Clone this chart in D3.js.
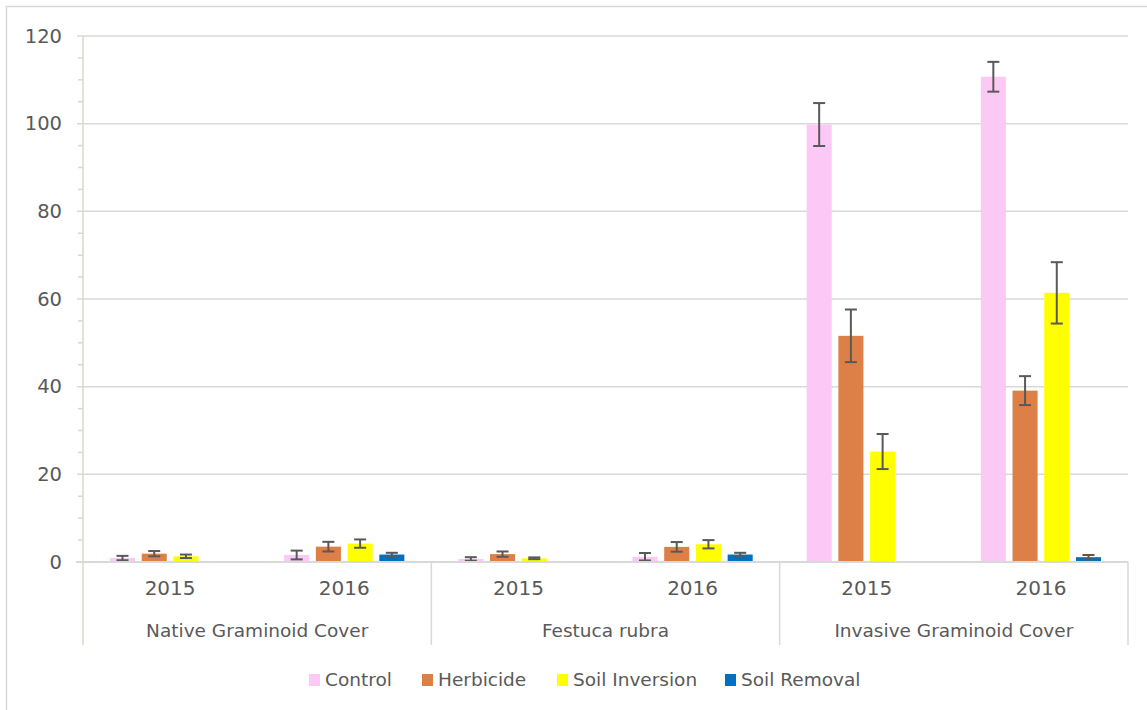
<!DOCTYPE html>
<html>
<head>
<meta charset="utf-8">
<script src="https://cdn.jsdelivr.net/npm/d3@7"></script>
<style>
  body { margin: 0; background: #fff; }
  svg text { font-family: "DejaVu Sans", sans-serif; fill: #595959; }
</style>
</head>
<body>
<svg width="1147" height="710"></svg>
<script>
// chart data
const categories = ['Native Graminoid Cover', 'Festuca rubra', 'Invasive Graminoid Cover'];
const years = ['2015', '2016'];
const seriesNames = ['Control', 'Herbicide', 'Soil Inversion', 'Soil Removal'];
const yTicks = [0, 20, 40, 60, 80, 100, 120];

// one value per (category, year), in that order
const control      = [0.9, 1.6, 0.7, 1.2, 99.8, 110.7];
const herbicide    = [1.9, 3.5, 1.8, 3.45, 51.6, 39.1];
const soilInversion = [1.3, 4.2, 0.85, 4.05, 25.2, 61.4];
const soilRemoval  = [0, 1.7, 0, 1.7, 0, 1.1];

const controlErr      = [0.5, 1.0, 0.4, 0.85, 4.9, 3.4];
const herbicideErr    = [0.6, 1.1, 0.6, 1.1, 6.0, 3.3];
const soilInversionErr = [0.4, 0.95, 0.2, 0.95, 4.0, 7.0];
const soilRemovalErr  = [0, 0.4, 0, 0.4, 0, 0.5];

const colors = ['#fcc8f5', '#dd8047', '#ffff00', '#0070c0'];

function whenLoaded(){
    const svg = d3.select('svg');
    const width = +svg.attr('width');
    const height = +svg.attr('height');

    const values = [control, herbicide, soilInversion, soilRemoval];
    const errors = [controlErr, herbicideErr, soilInversionErr, soilRemovalErr];

    const margin = {top: 36, right: 19, bottom: 148, left: 83};
    const innerWidth = width - margin.left - margin.right;
    const innerHeight = height - margin.top - margin.bottom;

    // outer frame
    svg.append('rect')
        .attr('x', 6.5).attr('y', 6.5)
        .attr('width', width + 10).attr('height', height + 10)
        .attr('fill', 'none')
        .attr('stroke', '#d9d9d9')
        .attr('stroke-width', 1.5);

    const g = svg.append('g')
        .attr('transform', `translate(${margin.left},${margin.top})`);

    const x0 = d3.scaleBand().domain(categories).range([0, innerWidth]);
    const x1 = d3.scaleBand().domain(years).range([0, x0.bandwidth()]);
    const x2 = d3.scaleBand().domain(seriesNames)
        .range([0, x1.bandwidth()])
        .paddingInner(0.21)
        .paddingOuter(0.85);

    const yScale = d3.scaleLinear().domain([0, 120]).range([innerHeight, 0]);

    // grid lines
    g.append('g')
        .selectAll('line').data(yTicks.filter(d => d > 0))
        .enter().append('line')
        .attr('x1', -6).attr('x2', innerWidth)
        .attr('y1', d => yScale(d)).attr('y2', d => yScale(d))
        .attr('stroke', '#d9d9d9')
        .attr('stroke-width', 1.5);

    // minor ticks on the y axis
    g.append('g')
        .selectAll('line').data(d3.range(5, 120, 5).filter(d => d % 20 !== 0))
        .enter().append('line')
        .attr('x1', -5).attr('x2', 0)
        .attr('y1', d => yScale(d)).attr('y2', d => yScale(d))
        .attr('stroke', '#d9d9c9')
        .attr('stroke-width', 1.5);

    // y tick labels
    g.append('g')
        .selectAll('text').data(yTicks)
        .enter().append('text')
        .attr('x', -21)
        .attr('y', d => yScale(d))
        .attr('dy', '0.35em')
        .attr('text-anchor', 'end')
        .style('font-size', '19.5px')
        .text(d => d);

    // bars
    const rows = [];
    categories.forEach((c, ci) => years.forEach((yr, yi) => rows.push({c, yr, i: ci * years.length + yi})));

    const groups = g.selectAll('.grp').data(rows).enter().append('g')
        .attr('class', 'grp')
        .attr('transform', d => `translate(${x0(d.c) + x1(d.yr)},0)`);

    groups.selectAll('rect')
        .data(d => seriesNames.map((s, si) => ({s, si, v: values[si][d.i], e: errors[si][d.i]})))
        .enter().append('rect')
        .attr('x', d => x2(d.s))
        .attr('width', x2.bandwidth())
        .attr('y', d => yScale(d.v))
        .attr('height', d => innerHeight - yScale(d.v))
        .attr('fill', d => colors[d.si]);

    // baseline
    g.append('line')
        .attr('x1', -7).attr('x2', innerWidth)
        .attr('y1', innerHeight).attr('y2', innerHeight)
        .attr('stroke', '#d9d9d9')
        .attr('stroke-width', 2);

    // error bars
    const capHalf = 6;
    const eb = groups.selectAll('.err')
        .data(d => seriesNames.map((s, si) => ({s, si, v: values[si][d.i], e: errors[si][d.i]})))
        .enter().append('g').attr('class', 'err')
        .attr('stroke', d => d.v === 0 ? '#a6a6a6' : '#595959')
        .attr('stroke-width', 2);
    const cx = d => x2(d.s) + x2.bandwidth() / 2;
    eb.append('line')
        .attr('x1', cx).attr('x2', cx)
        .attr('y1', d => yScale(d.v + d.e)).attr('y2', d => yScale(d.v - d.e));
    eb.append('line')
        .attr('x1', d => cx(d) - capHalf).attr('x2', d => cx(d) + capHalf)
        .attr('y1', d => yScale(d.v + d.e)).attr('y2', d => yScale(d.v + d.e));
    eb.append('line')
        .attr('x1', d => cx(d) - capHalf).attr('x2', d => cx(d) + capHalf)
        .attr('y1', d => yScale(d.v - d.e)).attr('y2', d => yScale(d.v - d.e));

    // y axis line
    g.append('line')
        .attr('x1', 0).attr('x2', 0)
        .attr('y1', 0).attr('y2', innerHeight + 83)
        .attr('stroke', '#d9d9c9')
        .attr('stroke-width', 1.5);

    // category separators
    const seps = categories.slice(1).map(c => x0(c)).concat([innerWidth]);
    g.selectAll('.sep').data(seps).enter().append('line')
        .attr('class', 'sep')
        .attr('x1', d => d).attr('x2', d => d)
        .attr('y1', innerHeight).attr('y2', innerHeight + 83)
        .attr('stroke', '#d9d9d9')
        .attr('stroke-width', 1.5);

    // year labels
    g.selectAll('.grp').append('text')
        .attr('x', x1.bandwidth() / 2)
        .attr('y', innerHeight + 26)
        .attr('dy', '0.35em')
        .attr('text-anchor', 'middle')
        .style('font-size', '20px')
        .text(d => d.yr);

    // category labels
    g.selectAll('.cat').data(categories).enter().append('text')
        .attr('class', 'cat')
        .attr('x', d => x0(d) + x0.bandwidth() / 2)
        .attr('y', innerHeight + 69)
        .attr('dy', '0.35em')
        .attr('text-anchor', 'middle')
        .style('font-size', '18.5px')
        .text(d => d);

    // legend
    const legendX = [309, 422, 557, 725];
    const legend = svg.append('g')
        .selectAll('g').data(seriesNames).enter().append('g')
        .attr('transform', (d, i) => `translate(${legendX[i]},680)`);
    legend.append('rect')
        .attr('x', 0).attr('y', -6)
        .attr('width', 11).attr('height', 12)
        .attr('fill', (d, i) => colors[i]);
    legend.append('text')
        .attr('x', 16)
        .attr('dy', '0.35em')
        .style('font-size', '18.5px')
        .text(d => d);
}

window.onload = whenLoaded;
</script>
</body>
</html>
